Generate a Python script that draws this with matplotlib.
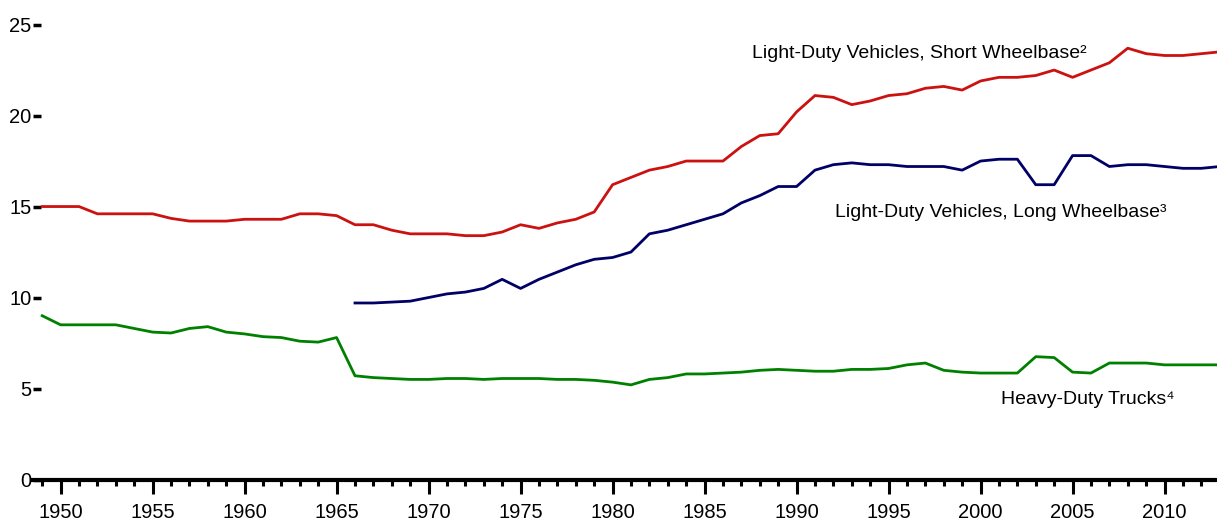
import matplotlib
matplotlib.use("Agg")
import matplotlib.pyplot as plt
from matplotlib.ticker import MultipleLocator

plt.rcParams['font.family'] = ['Liberation Sans', 'DejaVu Sans']

# fuel economy (mpg) by vehicle class
years_short = list(range(1949, 2014))
short_wb = [15.0, 15.0, 15.0, 14.6, 14.6, 14.6, 14.6, 14.35, 14.2, 14.2,
            14.2, 14.3, 14.3, 14.3, 14.6, 14.6, 14.5, 14.0, 14.0, 13.7,
            13.5, 13.5, 13.5, 13.4, 13.4, 13.6, 14.0, 13.8, 14.1, 14.3,
            14.7, 16.2, 16.6, 17.0, 17.2, 17.5, 17.5, 17.5, 18.3, 18.9,
            19.0, 20.2, 21.1, 21.0, 20.6, 20.8, 21.1, 21.2, 21.5, 21.6,
            21.4, 21.9, 22.1, 22.1, 22.2, 22.5, 22.1, 22.5, 22.9, 23.7,
            23.4, 23.3, 23.3, 23.4, 23.5]

years_long = list(range(1966, 2014))
long_wb = [9.7, 9.7, 9.75, 9.8, 10.0, 10.2, 10.3, 10.5, 11.0, 10.5,
           11.0, 11.4, 11.8, 12.1, 12.2, 12.5, 13.5, 13.7, 14.0, 14.3,
           14.6, 15.2, 15.6, 16.1, 16.1, 17.0, 17.3, 17.4, 17.3, 17.3,
           17.2, 17.2, 17.2, 17.0, 17.5, 17.6, 17.6, 16.2, 16.2, 17.8,
           17.8, 17.2, 17.3, 17.3, 17.2, 17.1, 17.1, 17.2]

years_heavy = list(range(1949, 2014))
heavy = [9.0, 8.5, 8.5, 8.5, 8.5, 8.3, 8.1, 8.05, 8.3, 8.4,
         8.1, 8.0, 7.85, 7.8, 7.6, 7.55, 7.8, 5.7, 5.6, 5.55,
         5.5, 5.5, 5.55, 5.55, 5.5, 5.55, 5.55, 5.55, 5.5, 5.5,
         5.45, 5.35, 5.2, 5.5, 5.6, 5.8, 5.8, 5.85, 5.9, 6.0,
         6.05, 6.0, 5.95, 5.95, 6.05, 6.05, 6.1, 6.3, 6.4, 6.0,
         5.9, 5.85, 5.85, 5.85, 6.75, 6.7, 5.9, 5.85, 6.4, 6.4,
         6.4, 6.3, 6.3, 6.3, 6.3]

labels = ['Light-Duty Vehicles, Short Wheelbase\u00b2',
          'Light-Duty Vehicles, Long Wheelbase\u00b3',
          'Heavy-Duty Trucks\u2074']

fig = plt.figure(figsize=(12.17, 5.25), dpi=100)
ax = fig.add_axes([33 / 1217, 45.5 / 525, 1 - 33 / 1217, 479.5 / 525])

ax.plot(years_short, short_wb, color='#CC1111', lw=2.0, solid_joinstyle='round')
ax.plot(years_long, long_wb, color='#000066', lw=2.0, solid_joinstyle='round')
ax.plot(years_heavy, heavy, color='#008000', lw=2.0, solid_joinstyle='round')

ax.set_xlim(1948.5, 2012.85)
ax.set_ylim(0, 26.35)

for s in ['top', 'right', 'left']:
    ax.spines[s].set_visible(False)
ax.spines['bottom'].set_linewidth(3)

ax.xaxis.set_major_locator(MultipleLocator(5))
ax.xaxis.set_minor_locator(MultipleLocator(1))
ax.set_yticks([0, 5, 10, 15, 20, 25])
ax.tick_params(axis='x', which='major', length=10, width=2.2, pad=7, labelsize=14.5)
ax.tick_params(axis='x', which='minor', length=4, width=2.2)
ax.tick_params(axis='y', direction='in', length=6, width=2.5, pad=1, labelsize=14.5)

ax.text(1987.6, 23.15, labels[0], fontsize=14, color='black')
ax.text(1992.1, 14.4, labels[1], fontsize=14, color='black')
ax.text(2001.1, 4.15, labels[2], fontsize=14, color='black')

fig.savefig('out.png', dpi=100)
